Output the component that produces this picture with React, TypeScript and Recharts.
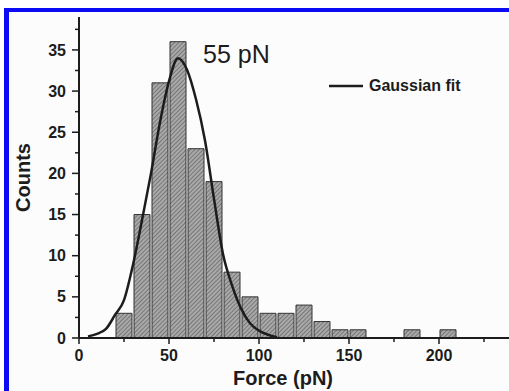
import React from 'react'
import { ComposedChart, Bar, Line, XAxis, YAxis, Legend } from 'recharts'

// histogram bins (center of each 10 pN bin) and counts
const binCenters = [25, 35, 45, 55, 65, 75, 85, 95, 105, 115, 125, 135, 145, 155, 185, 205]
const binCounts = [3, 15, 31, 36, 23, 19, 8, 5, 3, 3, 4, 2, 1, 1, 1, 1]

// gaussian fit curve
const fitForce = [5, 10, 15, 20, 25, 30, 35, 40, 45, 50, 55, 60, 65, 70, 75, 80, 85, 90, 95, 100, 105, 110]
const fitCounts = [0.2, 0.5, 1.1, 2.8, 4.6, 8.9, 14.3, 20.0, 26.2, 31.2, 34.0, 32.6, 29.0, 24.0, 16.9, 10.2, 6.4, 3.6, 1.8, 0.9, 0.4, 0.1]

const xTicks = [0, 25, 50, 75, 100, 125, 150, 175, 200, 225]
const yTicks = [0, 2.5, 5, 7.5, 10, 12.5, 15, 17.5, 20, 22.5, 25, 27.5, 30, 32.5, 35, 37.5]

const peakLabel = '55 pN'

const FONT = "'Liberation Sans', Arial, Helvetica, sans-serif"
const INK = '#1c1c1c'

const barData = binCenters.map((x, i) => ({ force: x, count: binCounts[i] }))
const fitData = fitForce.map((x, i) => ({ force: x, fit: fitCounts[i] }))

const XTick = (props: any) => {
  const { x, y, payload } = props
  const major = payload.value % 50 === 0
  return (
    <g>
      <line x1={x} x2={x} y1={y - 6} y2={major ? y : y - 2} stroke={INK} strokeWidth={1.5} />
      {major && (
        <text x={x} y={y + 17} textAnchor="middle" fontFamily={FONT} fontWeight="bold" fontSize={16} fill={INK}>
          {payload.value}
        </text>
      )}
    </g>
  )
}

const YTick = (props: any) => {
  const { x, y, payload } = props
  const major = payload.value % 5 === 0
  return (
    <g>
      <line x1={major ? x : x + 3} x2={x + 7} y1={y} y2={y} stroke={INK} strokeWidth={1.5} />
      {major && (
        <text x={x - 6} y={y} dy="0.35em" textAnchor="end" fontFamily={FONT} fontWeight="bold" fontSize={16} fill={INK}>
          {payload.value}
        </text>
      )}
    </g>
  )
}

const FitLegend = (props: any) => {
  const item = (props.payload || []).find((p: any) => p.dataKey === 'fit')
  if (!item) return null
  return (
    <div style={{ display: 'flex', alignItems: 'center', fontFamily: FONT, fontWeight: 'bold', fontSize: 16, color: INK }}>
      <svg width={36} height={6}>
        <line x1={0} x2={34} y1={3} y2={3} stroke={INK} strokeWidth={2.5} />
      </svg>
      <span style={{ marginLeft: 4 }}>{item.value}</span>
    </div>
  )
}

const App: React.FC = () => {
  return (
    <div style={{ position: 'absolute', left: 0, top: 0, width: 509, height: 391, overflow: 'hidden', background: '#fff' }}>
      <div
        style={{
          position: 'absolute',
          left: 4,
          top: 8,
          width: 520,
          height: 400,
          borderTop: '4px solid #0a0af5',
          borderLeft: '5px solid #0a0af5',
          background: '#fcfcfc'
        }}
      />
      <div style={{ position: 'absolute', left: 0, top: 0 }}>
        <ComposedChart width={511} height={391} data={barData} margin={{ top: 17, right: 0, left: 0, bottom: 0 }}>
          <defs>
            <pattern id="hatch" patternUnits="userSpaceOnUse" width={3} height={3} patternTransform="rotate(45)">
              <rect width={3} height={3} fill="#a9a9a9" />
              <line x1={0} y1={0} x2={0} y2={3} stroke="#555" strokeWidth={1.2} />
            </pattern>
          </defs>
          <XAxis
            dataKey="force"
            type="number"
            domain={[0, 240]}
            ticks={xTicks}
            interval={0}
            allowDataOverflow
            height={53}
            tickSize={6}
            tickMargin={0}
            tickLine={false}
            tick={<XTick />}
            axisLine={{ stroke: INK, strokeWidth: 2 }}
            label={{
              value: 'Force (pN)',
              position: 'insideBottom',
              offset: 6,
              dx: -12,
              style: { fontFamily: FONT, fontWeight: 'bold', fontSize: 20, fill: INK }
            }}
          />
          <XAxis xAxisId="fit" dataKey="force" type="number" domain={[0, 240]} hide allowDataOverflow />
          <YAxis
            type="number"
            domain={[0, 39]}
            ticks={yTicks}
            interval={0}
            allowDataOverflow
            width={79}
            tickSize={7}
            tickMargin={0}
            tickLine={false}
            tick={<YTick />}
            axisLine={{ stroke: INK, strokeWidth: 2 }}
            label={{
              value: 'Counts',
              angle: -90,
              position: 'insideLeft',
              offset: 23,
              style: { fontFamily: FONT, fontWeight: 'bold', fontSize: 20, fill: INK, textAnchor: 'middle' }
            }}
          />
          <Bar dataKey="count" barSize={16} fill="url(#hatch)" stroke="#333" strokeWidth={1} isAnimationActive={false} legendType="none" />
          <Line
            xAxisId="fit"
            data={fitData}
            dataKey="fit"
            name="Gaussian fit"
            type="monotone"
            stroke={INK}
            strokeWidth={2.5}
            dot={false}
            isAnimationActive={false}
          />
          <Legend
            layout="horizontal"
            align="center"
            verticalAlign="middle"
            content={<FitLegend />}
            wrapperStyle={{ position: 'absolute', left: 329, top: 77, width: 'auto' }}
          />
        </ComposedChart>
      </div>
      <div style={{ position: 'absolute', left: 203, top: 40, fontFamily: FONT, fontSize: 25, color: INK }}>{peakLabel}</div>
    </div>
  )
}

export default App
